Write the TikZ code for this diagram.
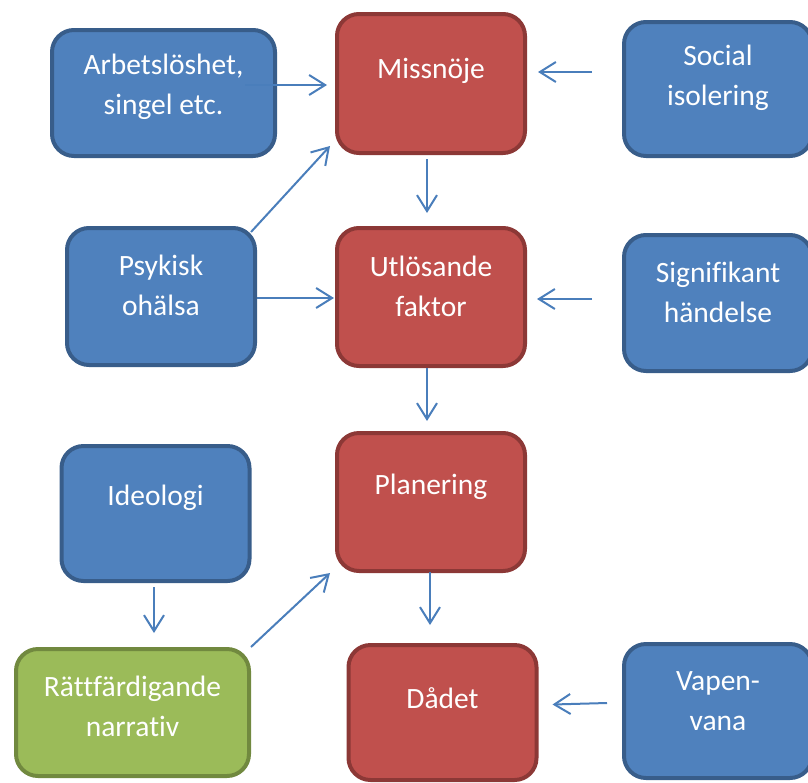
\documentclass[tikz,border=0pt]{standalone}
\usepackage{fontspec}
\setmainfont{Carlito}[Ligatures=NoCommon]
\usepackage{xcolor}
\usepackage{tikz}
\usetikzlibrary{positioning,arrows.meta,calc}
\definecolor{ofBlue}{HTML}{4F81BD}
\definecolor{ofBlueLine}{HTML}{385D8A}
\definecolor{ofRed}{HTML}{C0504D}
\definecolor{ofRedLine}{HTML}{8C3836}
\definecolor{ofGreen}{HTML}{9BBB59}
\definecolor{ofGreenLine}{HTML}{71893F}
\definecolor{ofArrow}{HTML}{4A7EBB}
\tikzset{
  bluebox/.style={draw=ofBlueLine,fill=ofBlue,rounded corners=22pt,
    line width=4pt,minimum width=188pt},
  redbox/.style={draw=ofRedLine,fill=ofRed,rounded corners=22pt,
    line width=4pt,minimum width=188pt},
  greenbox/.style={draw=ofGreenLine,fill=ofGreen,rounded corners=22pt,
    line width=4pt},
  boxtext/.style={text=white,align=center,
    font=\fontsize{29.5}{40}\selectfont},
  arrow/.style={-{Straight Barb[length=16pt,width=20pt,line width=2pt]},
    line width=2pt,draw=ofArrow}
}

\begin{document}
\begin{tikzpicture}[x=1pt,y=-1pt]
  \useasboundingbox (0,0) rectangle (808,782);

  % blue causes on the left and right
  \node[bluebox, minimum width=223pt, minimum height=126pt] (arb) at (163.5,93) {};
  \node[bluebox, minimum height=134pt] (soc) at (718,89) {};
  \node[bluebox, minimum height=137pt] (psy) at (161,296.5) {};
  \node[bluebox, minimum height=136pt] (sig) at (718,303) {};
  \node[bluebox, minimum height=135pt] (ide) at (155.5,513.5) {};
  \node[bluebox, minimum height=134pt] (vap) at (718,711) {};
  \node[greenbox, minimum width=233pt, minimum height=127pt] (rat) at (132.5,712.5) {};

  % red chain in the middle
  \node[redbox, minimum height=139pt] (mis) at (431,83.5) {};
  \node[redbox, minimum height=138pt] (utl) at (431,297) {};
  \node[redbox, minimum height=138pt] (pla) at (431,502) {};
  \node[redbox, minimum height=135pt] (dad) at (442.5,712.5) {};

  % texts
  \node[boxtext] (arbT) at ([yshift=6pt]arb.center) {Arbetslöshet,\\singel etc.};
  \node[boxtext] (socT) at ([yshift=11pt]soc.center) {Social\\isolering};
  \node[boxtext] (psyT) at ([yshift=11pt]psy.center) {Psykisk\\ohälsa};
  \node[boxtext] (sigT) at ([yshift=11pt]sig.center) {Signifikant\\händelse};
  \node[boxtext] (ideT) at ([yshift=16pt]ide.center) {Ideologi};
  \node[boxtext] (vapT) at ([yshift=10pt]vap.center) {Vapen-\\vana};
  \node[boxtext] (ratT) at ([yshift=6pt]rat.center) {Rättfärdigande\\narrativ};
  \node[boxtext] (misT) at ([yshift=13pt]mis.center) {Missnöje};
  \node[boxtext] (utlT) at ([yshift=11pt]utl.center) {Utlösande\\faktor};
  \node[boxtext] (plaT) at ([yshift=15pt]pla.center) {Planering};
  \node[boxtext] (dadT) at ([yshift=14pt]dad.center) {Dådet};

  \draw[arrow] ($(arb.east)+(-32,-8)$) -- ($(mis.west)+(-8,1.5)$);
  \draw[arrow] ($(soc.west)+(-30,-17)$) -- ($(mis.east)+(11,-11.5)$);
  \draw[arrow] ($(mis.south)+(-4,4)$) -- ($(utl.north)+(-4,-13)$);
  \draw[arrow] ($(psy.north east)+(-6,6)$) -- ($(mis.south west)+(-5,-9)$);
  \draw[arrow] ($(psy.east)+(0,1.5)$) -- ($(utl.west)+(-1,1)$);
  \draw[arrow] ($(sig.west)+(-30,-4)$) -- ($(utl.east)+(10,2)$);
  \draw[arrow] ($(utl.south)+(-4,0)$) -- ($(pla.north)+(-4,-10)$);
  \draw[arrow] ($(ide.south)+(-1.5,4)$) -- ($(ide.south |- rat.north)+(-1.5,-14)$);
  \draw[arrow] (rat.north east) -- ($(pla.south west)+(-5,0)$);
  \draw[arrow] ($(pla.south)+(-1,-1)$) -- ($(pla.south |- dad.north)+(-1,-18)$);
  \draw[arrow] ($(vap.west)+(-15,-8)$) -- ($(dad.east)+(14,-8)$);
\end{tikzpicture}
\end{document}
